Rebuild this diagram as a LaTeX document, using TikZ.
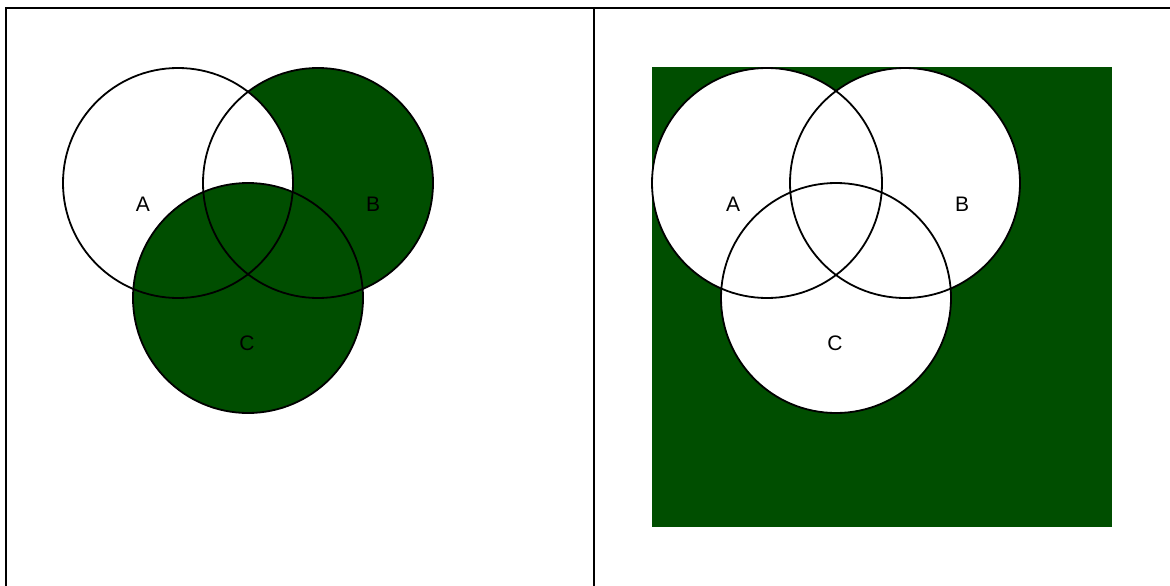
\documentclass[tikz,border=0pt]{standalone}
\usepackage{fontspec}
\setmainfont{Liberation Sans}
\usepackage{tikz}
\usetikzlibrary{positioning}
\definecolor{setgreen}{RGB}{0,78,0}

\begin{document}
\begin{tikzpicture}[
    x=1pt, y=-1pt,
    setfill/.style ={circle, inner sep=0pt, minimum size=230pt},
    setring/.style ={circle, draw, line width=1.8pt, inner sep=0pt, minimum size=230pt},
    universe/.style={rectangle, fill=setgreen, inner sep=0pt, minimum size=460pt},
    setlabel/.style={inner sep=1pt, font=\fontsize{21}{24}\selectfont},
    frame/.style={line width=2pt}
]
\useasboundingbox (0,0) rectangle (1170,586);

% left panel: (B - A) or C
\node[setfill, fill=setgreen] (lB) at (318,183) {};
\node[setfill, fill=white]    (lA) at (178,183) {};
\node[setfill, fill=setgreen] (lC) at (248,298) {};
\foreach \s in {lA,lB,lC}
    \node[setring] at (\s) {};
\node[setlabel] (lAl) at (143,204) {A};
\node[setlabel] (lBl) at (373,204) {B};
\node[setlabel] (lCl) at (247,343) {C};

% right panel: complement of A, B and C
\node[universe, anchor=north west] (univ) at (652,67) {};
\node[setfill, fill=white] (rA) at (767,183) {};
\node[setfill, fill=white] (rB) at (905,183) {};
\node[setfill, fill=white] (rC) at (836,298) {};
\foreach \s in {rA,rB,rC}
    \node[setring] at (\s) {};
\node[setlabel] (rAl) at (733,204) {A};
\node[setlabel] (rBl) at (962,204) {B};
\node[setlabel] (rCl) at (835,343) {C};

% frame
\draw[frame] (6,586) -- (6,8) -- (1170,8);
\draw[frame] (594,8) -- (594,586);
\end{tikzpicture}
\end{document}
